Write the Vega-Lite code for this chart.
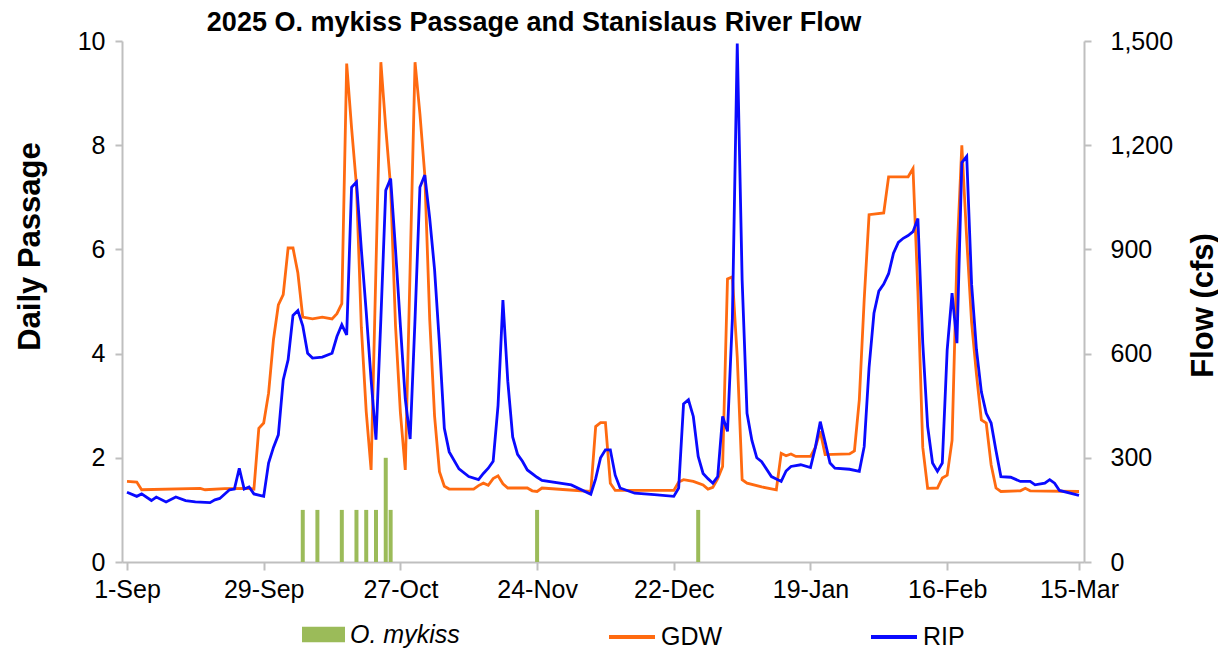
{
  "$schema": "https://vega.github.io/schema/vega-lite/v6.json",
  "width": 962,
  "height": 521,
  "autosize": {"type": "none"},
  "padding": {"left": 122, "top": 41, "right": 134, "bottom": 92},
  "background": "white",
  "title": {
    "text": "2025 O. mykiss Passage and Stanislaus River Flow",
    "font": "Liberation Sans",
    "fontSize": 27,
    "fontWeight": "bold",
    "color": "#000000",
    "anchor": "middle",
    "frame": "group",
    "dx": -69,
    "dy": 12,
    "offset": 4
  },
  "datasets": {
    "passage": [
      {"date": "2025-10-07", "passage": 1, "species": "O. mykiss"},
      {"date": "2025-10-10", "passage": 1, "species": "O. mykiss"},
      {"date": "2025-10-15", "passage": 1, "species": "O. mykiss"},
      {"date": "2025-10-18", "passage": 1, "species": "O. mykiss"},
      {"date": "2025-10-20", "passage": 1, "species": "O. mykiss"},
      {"date": "2025-10-22", "passage": 1, "species": "O. mykiss"},
      {"date": "2025-10-24", "passage": 2, "species": "O. mykiss"},
      {"date": "2025-10-25", "passage": 1, "species": "O. mykiss"},
      {"date": "2025-11-24", "passage": 1, "species": "O. mykiss"},
      {"date": "2025-12-27", "passage": 1, "species": "O. mykiss"}
    ],
    "flow": [
      {"date": "2025-09-01", "site": "GDW", "cfs": 232},
      {"date": "2025-09-03", "site": "GDW", "cfs": 230},
      {"date": "2025-09-04", "site": "GDW", "cfs": 208},
      {"date": "2025-09-16", "site": "GDW", "cfs": 212},
      {"date": "2025-09-17", "site": "GDW", "cfs": 208},
      {"date": "2025-09-21", "site": "GDW", "cfs": 211},
      {"date": "2025-09-26", "site": "GDW", "cfs": 212},
      {"date": "2025-09-27", "site": "GDW", "cfs": 210},
      {"date": "2025-09-28", "site": "GDW", "cfs": 385},
      {"date": "2025-09-29", "site": "GDW", "cfs": 400},
      {"date": "2025-09-30", "site": "GDW", "cfs": 486},
      {"date": "2025-10-01", "site": "GDW", "cfs": 640},
      {"date": "2025-10-02", "site": "GDW", "cfs": 740},
      {"date": "2025-10-03", "site": "GDW", "cfs": 770},
      {"date": "2025-10-04", "site": "GDW", "cfs": 904},
      {"date": "2025-10-05", "site": "GDW", "cfs": 904},
      {"date": "2025-10-06", "site": "GDW", "cfs": 832},
      {"date": "2025-10-07", "site": "GDW", "cfs": 705},
      {"date": "2025-10-09", "site": "GDW", "cfs": 700},
      {"date": "2025-10-11", "site": "GDW", "cfs": 705},
      {"date": "2025-10-13", "site": "GDW", "cfs": 700},
      {"date": "2025-10-14", "site": "GDW", "cfs": 715},
      {"date": "2025-10-15", "site": "GDW", "cfs": 744},
      {"date": "2025-10-16", "site": "GDW", "cfs": 1435},
      {"date": "2025-10-17", "site": "GDW", "cfs": 1250},
      {"date": "2025-10-18", "site": "GDW", "cfs": 1084},
      {"date": "2025-10-19", "site": "GDW", "cfs": 676},
      {"date": "2025-10-20", "site": "GDW", "cfs": 433},
      {"date": "2025-10-21", "site": "GDW", "cfs": 265},
      {"date": "2025-10-22", "site": "GDW", "cfs": 850},
      {"date": "2025-10-23", "site": "GDW", "cfs": 1439},
      {"date": "2025-10-24", "site": "GDW", "cfs": 1250},
      {"date": "2025-10-25", "site": "GDW", "cfs": 1080},
      {"date": "2025-10-26", "site": "GDW", "cfs": 680},
      {"date": "2025-10-27", "site": "GDW", "cfs": 430},
      {"date": "2025-10-28", "site": "GDW", "cfs": 265},
      {"date": "2025-10-29", "site": "GDW", "cfs": 850},
      {"date": "2025-10-30", "site": "GDW", "cfs": 1439},
      {"date": "2025-10-31", "site": "GDW", "cfs": 1290},
      {"date": "2025-11-01", "site": "GDW", "cfs": 1114},
      {"date": "2025-11-02", "site": "GDW", "cfs": 700},
      {"date": "2025-11-03", "site": "GDW", "cfs": 420},
      {"date": "2025-11-04", "site": "GDW", "cfs": 260},
      {"date": "2025-11-05", "site": "GDW", "cfs": 218},
      {"date": "2025-11-06", "site": "GDW", "cfs": 210},
      {"date": "2025-11-11", "site": "GDW", "cfs": 210},
      {"date": "2025-11-12", "site": "GDW", "cfs": 220},
      {"date": "2025-11-13", "site": "GDW", "cfs": 227},
      {"date": "2025-11-14", "site": "GDW", "cfs": 221},
      {"date": "2025-11-15", "site": "GDW", "cfs": 240},
      {"date": "2025-11-16", "site": "GDW", "cfs": 248},
      {"date": "2025-11-17", "site": "GDW", "cfs": 225},
      {"date": "2025-11-18", "site": "GDW", "cfs": 213},
      {"date": "2025-11-22", "site": "GDW", "cfs": 213},
      {"date": "2025-11-23", "site": "GDW", "cfs": 205},
      {"date": "2025-11-24", "site": "GDW", "cfs": 203},
      {"date": "2025-11-25", "site": "GDW", "cfs": 213},
      {"date": "2025-11-30", "site": "GDW", "cfs": 208},
      {"date": "2025-12-05", "site": "GDW", "cfs": 203},
      {"date": "2025-12-06", "site": "GDW", "cfs": 390},
      {"date": "2025-12-07", "site": "GDW", "cfs": 401},
      {"date": "2025-12-08", "site": "GDW", "cfs": 401},
      {"date": "2025-12-09", "site": "GDW", "cfs": 227},
      {"date": "2025-12-10", "site": "GDW", "cfs": 206},
      {"date": "2025-12-22", "site": "GDW", "cfs": 206},
      {"date": "2025-12-23", "site": "GDW", "cfs": 230},
      {"date": "2025-12-24", "site": "GDW", "cfs": 237},
      {"date": "2025-12-26", "site": "GDW", "cfs": 232},
      {"date": "2025-12-28", "site": "GDW", "cfs": 222},
      {"date": "2025-12-29", "site": "GDW", "cfs": 210},
      {"date": "2025-12-30", "site": "GDW", "cfs": 215},
      {"date": "2025-12-31", "site": "GDW", "cfs": 240},
      {"date": "2026-01-01", "site": "GDW", "cfs": 275},
      {"date": "2026-01-02", "site": "GDW", "cfs": 815},
      {"date": "2026-01-03", "site": "GDW", "cfs": 821},
      {"date": "2026-01-04", "site": "GDW", "cfs": 590},
      {"date": "2026-01-05", "site": "GDW", "cfs": 237},
      {"date": "2026-01-06", "site": "GDW", "cfs": 227},
      {"date": "2026-01-09", "site": "GDW", "cfs": 216},
      {"date": "2026-01-12", "site": "GDW", "cfs": 208},
      {"date": "2026-01-13", "site": "GDW", "cfs": 313},
      {"date": "2026-01-14", "site": "GDW", "cfs": 306},
      {"date": "2026-01-15", "site": "GDW", "cfs": 311},
      {"date": "2026-01-16", "site": "GDW", "cfs": 304},
      {"date": "2026-01-19", "site": "GDW", "cfs": 304},
      {"date": "2026-01-20", "site": "GDW", "cfs": 330},
      {"date": "2026-01-21", "site": "GDW", "cfs": 376},
      {"date": "2026-01-22", "site": "GDW", "cfs": 309},
      {"date": "2026-01-27", "site": "GDW", "cfs": 311},
      {"date": "2026-01-28", "site": "GDW", "cfs": 320},
      {"date": "2026-01-29", "site": "GDW", "cfs": 467},
      {"date": "2026-01-30", "site": "GDW", "cfs": 755},
      {"date": "2026-01-31", "site": "GDW", "cfs": 1000},
      {"date": "2026-02-03", "site": "GDW", "cfs": 1005},
      {"date": "2026-02-04", "site": "GDW", "cfs": 1109},
      {"date": "2026-02-08", "site": "GDW", "cfs": 1109},
      {"date": "2026-02-09", "site": "GDW", "cfs": 1133},
      {"date": "2026-02-10", "site": "GDW", "cfs": 780},
      {"date": "2026-02-11", "site": "GDW", "cfs": 330},
      {"date": "2026-02-12", "site": "GDW", "cfs": 212},
      {"date": "2026-02-14", "site": "GDW", "cfs": 213},
      {"date": "2026-02-15", "site": "GDW", "cfs": 242},
      {"date": "2026-02-16", "site": "GDW", "cfs": 250},
      {"date": "2026-02-17", "site": "GDW", "cfs": 350},
      {"date": "2026-02-18", "site": "GDW", "cfs": 880},
      {"date": "2026-02-19", "site": "GDW", "cfs": 1200},
      {"date": "2026-02-20", "site": "GDW", "cfs": 930},
      {"date": "2026-02-21", "site": "GDW", "cfs": 690},
      {"date": "2026-02-22", "site": "GDW", "cfs": 540},
      {"date": "2026-02-23", "site": "GDW", "cfs": 409},
      {"date": "2026-02-24", "site": "GDW", "cfs": 400},
      {"date": "2026-02-25", "site": "GDW", "cfs": 280},
      {"date": "2026-02-26", "site": "GDW", "cfs": 213},
      {"date": "2026-02-27", "site": "GDW", "cfs": 203},
      {"date": "2026-03-03", "site": "GDW", "cfs": 205},
      {"date": "2026-03-04", "site": "GDW", "cfs": 212},
      {"date": "2026-03-05", "site": "GDW", "cfs": 205},
      {"date": "2026-03-15", "site": "GDW", "cfs": 203},
      {"date": "2025-09-01", "site": "RIP", "cfs": 201},
      {"date": "2025-09-03", "site": "RIP", "cfs": 189},
      {"date": "2025-09-04", "site": "RIP", "cfs": 196},
      {"date": "2025-09-06", "site": "RIP", "cfs": 177},
      {"date": "2025-09-07", "site": "RIP", "cfs": 187},
      {"date": "2025-09-09", "site": "RIP", "cfs": 173},
      {"date": "2025-09-11", "site": "RIP", "cfs": 187},
      {"date": "2025-09-13", "site": "RIP", "cfs": 177},
      {"date": "2025-09-15", "site": "RIP", "cfs": 173},
      {"date": "2025-09-18", "site": "RIP", "cfs": 171},
      {"date": "2025-09-19", "site": "RIP", "cfs": 179},
      {"date": "2025-09-20", "site": "RIP", "cfs": 183},
      {"date": "2025-09-22", "site": "RIP", "cfs": 208},
      {"date": "2025-09-23", "site": "RIP", "cfs": 210},
      {"date": "2025-09-24", "site": "RIP", "cfs": 270},
      {"date": "2025-09-25", "site": "RIP", "cfs": 210},
      {"date": "2025-09-26", "site": "RIP", "cfs": 216},
      {"date": "2025-09-27", "site": "RIP", "cfs": 196},
      {"date": "2025-09-29", "site": "RIP", "cfs": 189},
      {"date": "2025-09-30", "site": "RIP", "cfs": 285},
      {"date": "2025-10-01", "site": "RIP", "cfs": 330},
      {"date": "2025-10-02", "site": "RIP", "cfs": 366},
      {"date": "2025-10-03", "site": "RIP", "cfs": 524},
      {"date": "2025-10-04", "site": "RIP", "cfs": 582},
      {"date": "2025-10-05", "site": "RIP", "cfs": 710},
      {"date": "2025-10-06", "site": "RIP", "cfs": 724},
      {"date": "2025-10-07", "site": "RIP", "cfs": 680},
      {"date": "2025-10-08", "site": "RIP", "cfs": 601},
      {"date": "2025-10-09", "site": "RIP", "cfs": 587},
      {"date": "2025-10-11", "site": "RIP", "cfs": 590},
      {"date": "2025-10-13", "site": "RIP", "cfs": 601},
      {"date": "2025-10-14", "site": "RIP", "cfs": 649},
      {"date": "2025-10-15", "site": "RIP", "cfs": 683},
      {"date": "2025-10-16", "site": "RIP", "cfs": 654},
      {"date": "2025-10-17", "site": "RIP", "cfs": 1079},
      {"date": "2025-10-18", "site": "RIP", "cfs": 1094},
      {"date": "2025-10-19", "site": "RIP", "cfs": 900},
      {"date": "2025-10-20", "site": "RIP", "cfs": 720},
      {"date": "2025-10-21", "site": "RIP", "cfs": 525},
      {"date": "2025-10-22", "site": "RIP", "cfs": 352},
      {"date": "2025-10-23", "site": "RIP", "cfs": 700},
      {"date": "2025-10-24", "site": "RIP", "cfs": 1070},
      {"date": "2025-10-25", "site": "RIP", "cfs": 1104},
      {"date": "2025-10-26", "site": "RIP", "cfs": 900},
      {"date": "2025-10-27", "site": "RIP", "cfs": 680},
      {"date": "2025-10-28", "site": "RIP", "cfs": 470},
      {"date": "2025-10-29", "site": "RIP", "cfs": 354},
      {"date": "2025-10-30", "site": "RIP", "cfs": 700},
      {"date": "2025-10-31", "site": "RIP", "cfs": 1079},
      {"date": "2025-11-01", "site": "RIP", "cfs": 1114},
      {"date": "2025-11-02", "site": "RIP", "cfs": 990},
      {"date": "2025-11-03", "site": "RIP", "cfs": 842},
      {"date": "2025-11-04", "site": "RIP", "cfs": 628},
      {"date": "2025-11-05", "site": "RIP", "cfs": 385},
      {"date": "2025-11-06", "site": "RIP", "cfs": 317},
      {"date": "2025-11-08", "site": "RIP", "cfs": 268},
      {"date": "2025-11-10", "site": "RIP", "cfs": 246},
      {"date": "2025-11-12", "site": "RIP", "cfs": 237},
      {"date": "2025-11-13", "site": "RIP", "cfs": 255},
      {"date": "2025-11-14", "site": "RIP", "cfs": 270},
      {"date": "2025-11-15", "site": "RIP", "cfs": 290},
      {"date": "2025-11-16", "site": "RIP", "cfs": 450},
      {"date": "2025-11-17", "site": "RIP", "cfs": 754},
      {"date": "2025-11-18", "site": "RIP", "cfs": 520},
      {"date": "2025-11-19", "site": "RIP", "cfs": 360},
      {"date": "2025-11-20", "site": "RIP", "cfs": 310},
      {"date": "2025-11-21", "site": "RIP", "cfs": 290},
      {"date": "2025-11-22", "site": "RIP", "cfs": 265},
      {"date": "2025-11-24", "site": "RIP", "cfs": 244},
      {"date": "2025-11-25", "site": "RIP", "cfs": 235},
      {"date": "2025-12-01", "site": "RIP", "cfs": 222},
      {"date": "2025-12-05", "site": "RIP", "cfs": 195},
      {"date": "2025-12-06", "site": "RIP", "cfs": 240},
      {"date": "2025-12-07", "site": "RIP", "cfs": 300},
      {"date": "2025-12-08", "site": "RIP", "cfs": 323},
      {"date": "2025-12-09", "site": "RIP", "cfs": 323},
      {"date": "2025-12-10", "site": "RIP", "cfs": 250},
      {"date": "2025-12-11", "site": "RIP", "cfs": 213},
      {"date": "2025-12-14", "site": "RIP", "cfs": 198},
      {"date": "2025-12-18", "site": "RIP", "cfs": 194},
      {"date": "2025-12-22", "site": "RIP", "cfs": 189},
      {"date": "2025-12-23", "site": "RIP", "cfs": 213},
      {"date": "2025-12-24", "site": "RIP", "cfs": 455},
      {"date": "2025-12-25", "site": "RIP", "cfs": 467},
      {"date": "2025-12-26", "site": "RIP", "cfs": 419},
      {"date": "2025-12-27", "site": "RIP", "cfs": 304},
      {"date": "2025-12-28", "site": "RIP", "cfs": 255},
      {"date": "2025-12-29", "site": "RIP", "cfs": 240},
      {"date": "2025-12-30", "site": "RIP", "cfs": 227},
      {"date": "2025-12-31", "site": "RIP", "cfs": 246},
      {"date": "2026-01-01", "site": "RIP", "cfs": 419},
      {"date": "2026-01-02", "site": "RIP", "cfs": 376},
      {"date": "2026-01-03", "site": "RIP", "cfs": 700},
      {"date": "2026-01-04", "site": "RIP", "cfs": 1493},
      {"date": "2026-01-05", "site": "RIP", "cfs": 812},
      {"date": "2026-01-06", "site": "RIP", "cfs": 428},
      {"date": "2026-01-07", "site": "RIP", "cfs": 350},
      {"date": "2026-01-08", "site": "RIP", "cfs": 300},
      {"date": "2026-01-09", "site": "RIP", "cfs": 289},
      {"date": "2026-01-11", "site": "RIP", "cfs": 246},
      {"date": "2026-01-13", "site": "RIP", "cfs": 232},
      {"date": "2026-01-14", "site": "RIP", "cfs": 262},
      {"date": "2026-01-15", "site": "RIP", "cfs": 275},
      {"date": "2026-01-17", "site": "RIP", "cfs": 280},
      {"date": "2026-01-19", "site": "RIP", "cfs": 272},
      {"date": "2026-01-20", "site": "RIP", "cfs": 330},
      {"date": "2026-01-21", "site": "RIP", "cfs": 404},
      {"date": "2026-01-22", "site": "RIP", "cfs": 345},
      {"date": "2026-01-23", "site": "RIP", "cfs": 285},
      {"date": "2026-01-24", "site": "RIP", "cfs": 270},
      {"date": "2026-01-27", "site": "RIP", "cfs": 267},
      {"date": "2026-01-29", "site": "RIP", "cfs": 261},
      {"date": "2026-01-30", "site": "RIP", "cfs": 332},
      {"date": "2026-01-31", "site": "RIP", "cfs": 560},
      {"date": "2026-02-01", "site": "RIP", "cfs": 716},
      {"date": "2026-02-02", "site": "RIP", "cfs": 780},
      {"date": "2026-02-03", "site": "RIP", "cfs": 800},
      {"date": "2026-02-04", "site": "RIP", "cfs": 830},
      {"date": "2026-02-05", "site": "RIP", "cfs": 889},
      {"date": "2026-02-06", "site": "RIP", "cfs": 920},
      {"date": "2026-02-07", "site": "RIP", "cfs": 932},
      {"date": "2026-02-08", "site": "RIP", "cfs": 940},
      {"date": "2026-02-09", "site": "RIP", "cfs": 951},
      {"date": "2026-02-10", "site": "RIP", "cfs": 989},
      {"date": "2026-02-11", "site": "RIP", "cfs": 630},
      {"date": "2026-02-12", "site": "RIP", "cfs": 390},
      {"date": "2026-02-13", "site": "RIP", "cfs": 285},
      {"date": "2026-02-14", "site": "RIP", "cfs": 261},
      {"date": "2026-02-15", "site": "RIP", "cfs": 285},
      {"date": "2026-02-16", "site": "RIP", "cfs": 611},
      {"date": "2026-02-17", "site": "RIP", "cfs": 774},
      {"date": "2026-02-18", "site": "RIP", "cfs": 630},
      {"date": "2026-02-19", "site": "RIP", "cfs": 1150},
      {"date": "2026-02-20", "site": "RIP", "cfs": 1168},
      {"date": "2026-02-21", "site": "RIP", "cfs": 800},
      {"date": "2026-02-22", "site": "RIP", "cfs": 611},
      {"date": "2026-02-23", "site": "RIP", "cfs": 490},
      {"date": "2026-02-24", "site": "RIP", "cfs": 428},
      {"date": "2026-02-25", "site": "RIP", "cfs": 400},
      {"date": "2026-02-26", "site": "RIP", "cfs": 320},
      {"date": "2026-02-27", "site": "RIP", "cfs": 246},
      {"date": "2026-03-01", "site": "RIP", "cfs": 244},
      {"date": "2026-03-03", "site": "RIP", "cfs": 232},
      {"date": "2026-03-05", "site": "RIP", "cfs": 232},
      {"date": "2026-03-06", "site": "RIP", "cfs": 222},
      {"date": "2026-03-08", "site": "RIP", "cfs": 227},
      {"date": "2026-03-09", "site": "RIP", "cfs": 237},
      {"date": "2026-03-10", "site": "RIP", "cfs": 227},
      {"date": "2026-03-11", "site": "RIP", "cfs": 206},
      {"date": "2026-03-15", "site": "RIP", "cfs": 192}
    ]
  },
  "encoding": {
    "x": {
      "field": "date",
      "type": "temporal",
      "scale": {
        "type": "utc",
        "domain": [
          {"year": 2025, "month": 9, "date": 1, "utc": true},
          {"year": 2026, "month": 3, "date": 15, "utc": true}
        ]
      },
      "axis": {
        "title": null,
        "values": [
          {"year": 2025, "month": 9, "date": 1, "utc": true},
          {"year": 2025, "month": 9, "date": 29, "utc": true},
          {"year": 2025, "month": 10, "date": 27, "utc": true},
          {"year": 2025, "month": 11, "date": 24, "utc": true},
          {"year": 2025, "month": 12, "date": 22, "utc": true},
          {"year": 2026, "month": 1, "date": 19, "utc": true},
          {"year": 2026, "month": 2, "date": 16, "utc": true},
          {"year": 2026, "month": 3, "date": 15, "utc": true}
        ],
        "labelExpr": "utcFormat(datum.value, '%-d-%b')",
        "labelFlush": false,
        "labelOverlap": false,
        "tickSize": 8,
        "labelPadding": 7,
        "grid": false
      }
    }
  },
  "layer": [
    {
      "data": {"name": "passage"},
      "mark": {"type": "bar", "width": 4},
      "encoding": {
        "y": {
          "field": "passage",
          "type": "quantitative",
          "scale": {"domain": [0, 10], "nice": false},
          "axis": {
            "orient": "left",
            "title": "Daily Passage",
            "values": [0, 2, 4, 6, 8, 10],
            "tickSize": 7,
            "labelPadding": 10,
            "titleAngle": 270,
            "titleAlign": "center",
            "titleBaseline": "middle",
            "titleX": -92,
            "titleY": 205,
            "grid": false
          }
        },
        "fill": {
          "field": "species",
          "type": "nominal",
          "scale": {"domain": ["O. mykiss"], "range": ["#9BBB59"]},
          "legend": {
            "orient": "none",
            "legendX": 180,
            "legendY": 572,
            "direction": "horizontal",
            "title": null,
            "padding": 0,
            "symbolType": "M-1,-0.36H1V0.36H-1Z",
            "symbolSize": 1849,
            "symbolStrokeWidth": 0,
            "labelFontSize": 25,
            "labelFontStyle": "italic",
            "labelOffset": 5,
            "labelColor": "#000000",
            "labelFont": "Liberation Sans"
          }
        }
      }
    },
    {
      "data": {"name": "flow"},
      "mark": {"type": "line", "strokeWidth": 2.8},
      "encoding": {
        "y": {
          "field": "cfs",
          "type": "quantitative",
          "scale": {"domain": [0, 1500], "nice": false},
          "axis": {
            "orient": "right",
            "title": "Flow (cfs)",
            "values": [0, 300, 600, 900, 1200, 1500],
            "format": ",d",
            "tickSize": 7,
            "labelPadding": 19,
            "titleAngle": 270,
            "titleAlign": "center",
            "titleBaseline": "middle",
            "titleX": 119,
            "titleY": 264,
            "grid": false
          }
        },
        "stroke": {
          "field": "site",
          "type": "nominal",
          "scale": {"domain": ["GDW", "RIP"], "range": ["#FF6A10", "#0A0AFF"]},
          "legend": {
            "orient": "none",
            "legendX": 485,
            "legendY": 571,
            "direction": "horizontal",
            "title": null,
            "padding": 0,
            "symbolType": "stroke",
            "symbolSize": 2116,
            "symbolStrokeWidth": 4,
            "labelFontSize": 25,
            "labelOffset": 4,
            "columnPadding": 140,
            "gridAlign": "none",
            "labelColor": "#000000",
            "labelFont": "Liberation Sans"
          }
        }
      }
    }
  ],
  "resolve": {"scale": {"y": "independent"}},
  "config": {
    "font": "Liberation Sans",
    "view": {"stroke": null},
    "axis": {
      "domainColor": "#BFBFBF",
      "domainWidth": 2,
      "tickColor": "#BFBFBF",
      "tickWidth": 2,
      "labelFont": "Liberation Sans",
      "labelFontSize": 25,
      "labelColor": "#000000",
      "titleFont": "Liberation Sans",
      "titleFontSize": 31,
      "titleFontWeight": "bold",
      "titleColor": "#000000",
      "grid": false
    }
  }
}
